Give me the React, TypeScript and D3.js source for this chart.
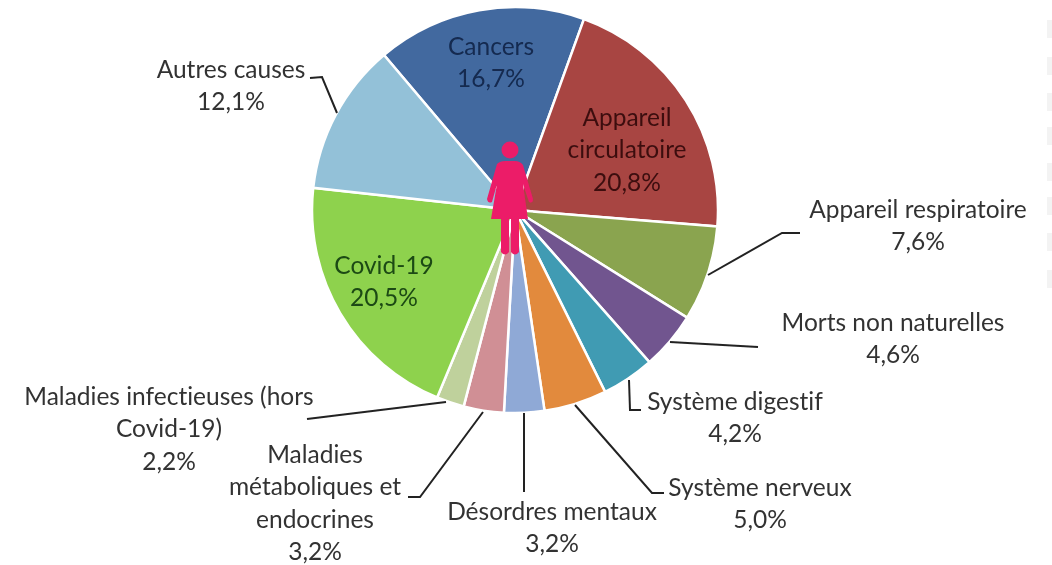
import React from "react";
import * as d3 from "d3";

const names = ["Cancers","Appareil circulatoire","Appareil respiratoire","Morts non naturelles","Système digestif","Système nerveux","Désordres mentaux","Maladies métaboliques et endocrines","Maladies infectieuses (hors Covid-19)","Covid-19","Autres causes"];
const values = [16.7,20.8,7.6,4.6,4.2,5.0,3.2,3.2,2.2,20.5,12.1];
const colors = ["#43699f","#a84442","#8aa44f","#71548f","#3f9bb3","#e28a3c","#8fa9d6","#d08f95","#bfd19c","#8ed24e","#93c1d8"];
const labelLines: string[][] = [
  ["Cancers","16,7%"],["Appareil","circulatoire","20,8%"],["Appareil respiratoire","7,6%"],["Morts non naturelles","4,6%"],
  ["Système digestif","4,2%"],["Système nerveux","5,0%"],["Désordres mentaux","3,2%"],["Maladies","métaboliques et","endocrines","3,2%"],
  ["Maladies infectieuses (hors","Covid-19)","2,2%"],["Covid-19","20,5%"],["Autres causes","12,1%"]];
const labelX = [491,627,918,893,735,760,552,315,169,384,231];
const labelY = [46,117,209,322,401,487,511,454,396,265,69];
const labelFill = ["#12294f","#3c0f10","#333","#333","#333","#333","#333","#333","#333","#1c4a12","#333"];
const leaders: [number,number][][] = [
  [],[],
  [[708,275],[782,233],[800,233]],
  [[670,342],[758,347]],
  [[629,380],[630,410],[641,410]],
  [[575,405],[652,493],[664,493]],
  [[524,413],[524,492]],
  [[483,412],[420,497],[408,497]],
  [[446,402],[307,419]],
  [],
  [[337,113],[322,77],[310,78]]];
const stripY = [20,57,93,127,163,197,233,270];

const W = 1052, H = 565, cx = 515, cy = 210, R = 203;
const START = -40.2 * Math.PI / 180;

export default function App() {
  const pie = d3.pie<number>().sort(null).startAngle(START).endAngle(START + 2 * Math.PI);
  const arc = d3.arc<d3.PieArcDatum<number>>().innerRadius(0).outerRadius(R);
  const arcs = pie(values);
  return (
    <svg width={W} height={H} style={{position:"absolute",left:0,top:0,background:"#fff",fontVariantLigatures:"none"}} fontFamily="Lato, sans-serif">
      <defs>
        <filter id="soft" x="-2%" y="-2%" width="104%" height="104%"><feGaussianBlur stdDeviation="0.6"/></filter>
      </defs>
      <g filter="url(#soft)">
        {stripY.map(y => <rect key={y} x={1047} y={y} width={5} height={18} fill="#f3f3f3"/>)}
        <g transform={`translate(${cx},${cy})`}>
          {arcs.map((a,i) => <path key={names[i]} d={arc(a)!} fill={colors[i]} stroke="#fff" strokeWidth={2.5}/>)}
        </g>
        {leaders.map((l,i) => l.length ? <path key={i} d={d3.line()(l)!} fill="none" stroke="#222" strokeWidth={2}/> : null)}
        {labelLines.map((lines,i) => (
          <text key={i} textAnchor="middle" fontSize={24.5} fill={labelFill[i]}>
            {lines.map((t,j) => <tspan key={j} x={labelX[i]} y={labelY[i]+8.5+j*32.5}>{t}</tspan>)}
          </text>
        ))}
        <g fill="#ec1c68">
          <circle cx={510} cy={150} r={8.5}/>
          <path d="M497 164 Q500 161 505 161 L515 161 Q520 161 523 165 L533 199 Q533 204 529 202 L523 184 L528 219 L491 219 L497 184 L492 202 Q488 204 487 199 Z"/>
          <path d="M501 217 L509 217 L509 252 Q505 257 501 252 Z"/>
          <path d="M511 217 L519 217 L519 252 Q515 257 511 252 Z"/>
        </g>
      </g>
    </svg>
  );
}
